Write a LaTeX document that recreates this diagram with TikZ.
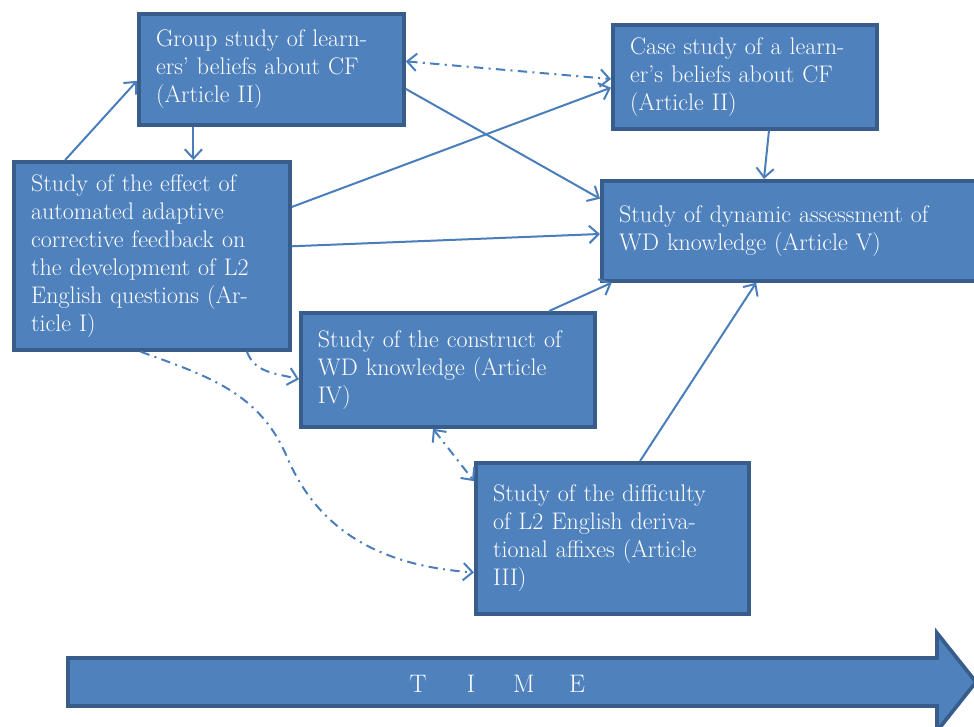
\documentclass[tikz,border=0pt]{standalone}
\usepackage{xcolor}
\usepackage{tikz}
\usetikzlibrary{positioning,calc,arrows.meta}

\definecolor{boxfill}{HTML}{4F81BD}
\definecolor{boxline}{HTML}{385D8A}
\definecolor{linkblue}{HTML}{4A7EBB}

\tikzset{
  >={Straight Barb[length=7pt,width=13pt]},
  study/.style={draw=boxline, line width=2.8pt, fill=boxfill, text=white,
    anchor=north west, align=left, inner xsep=12.5pt,
    font=\fontsize{18}{21}\selectfont},
  link/.style={draw=linkblue, line width=1.5pt, ->},
  dashlink/.style={link, dash pattern=on 7pt off 4pt on 1.5pt off 4pt},
  timeletter/.style={text=white, font=\fontsize{19}{19}\selectfont},
}

\begin{document}
\begin{tikzpicture}[x=0.75pt, y=0.75pt]
    \useasboundingbox (0,0) rectangle (974,-726);
    \clip (0,0) rectangle (974,-726);

    % studies
    \node[study, minimum width=198.75pt, minimum height=83.25pt, text width=173pt] (grp) at (137,-12)
        {Group study of learn-\\ers' beliefs about CF\\(Article II)};
    \node[study, minimum width=198pt, minimum height=78pt, text width=172pt] (case) at (611,-23)
        {Case study of a learn-\\er's beliefs about CF\\(Article II)};
    \node[study, minimum width=207pt, minimum height=141pt, text width=181pt] (eff) at (12,-160)
        {Study of the effect of\\automated adaptive\\corrective feedback on\\the development of L2\\English questions (Ar-\\ticle I)};
    \node[study, minimum width=290pt, minimum height=75pt, text width=264pt] (dyn) at (600,-179)
        {Study of dynamic assessment of\\WD knowledge (Article V)};
    \node[study, minimum width=220.5pt, minimum height=85.5pt, text width=195pt] (con) at (299,-311)
        {Study of the construct of\\WD knowledge (Article\\IV)};
    \node[study, minimum width=204.75pt, minimum height=113.25pt, text width=179pt] (dif) at (474,-461)
        {Study of the difficulty\\of L2 English deriva-\\tional affixes (Article\\III)};

    % solid links
    \draw[link] ($(eff.north west)!0.19!(eff.north east)$) -- ($(grp.north west)!0.6!(grp.south west)$);
    \draw[link] ($(grp.south west)!0.21!(grp.south east)$) coordinate (g1) -- (g1 |- eff.north);
    \draw[link] ($(grp.north east)!0.67!(grp.south east)$) -- ($(dyn.north west)!0.19!(dyn.south west)$);
    \draw[link] ($(eff.north east)!0.245!(eff.south east)$) -- ($(case.north west)!0.6!(case.south west)$);
    \draw[link] ($(eff.north east)!0.45!(eff.south east)$) -- ($(dyn.north west)!0.53!(dyn.south west)$);
    \draw[link] ($(case.south west)!0.59!(case.south east)$) -- ($(dyn.north west)!0.42!(dyn.north east)$);
    \draw[link] ($(con.north west)!0.84!(con.north east)$) -- ($(dyn.south west)!0.03!(dyn.south east)$);
    \draw[link] ($(dif.north west)!0.6!(dif.north east)$) -- ($(dyn.south west)!0.4!(dyn.south east)$);

    % dash-dot links
    \draw[dashlink, <->] ($(grp.north east)!0.43!(grp.south east)$) -- ($(case.north west)!0.52!(case.south west)$);
    \draw[dashlink] ($(eff.south west)!0.84!(eff.south east)$) to[out=-70, in=165] ($(con.north west)!0.58!(con.south west)$);
    \draw[dashlink] ($(eff.south west)!0.46!(eff.south east)$) to[out=-20, in=113] (287,-457)
        to[out=-67, in=176] ($(dif.north west)!0.72!(dif.south west)$);
    \draw[dashlink, <->] ($(con.south west)!0.45!(con.south east)$) -- ($(dif.north west)!0.13!(dif.south west)$);

    % time arrow
    \draw[draw=boxline, line width=2.8pt, fill=boxfill] (68,-658) -- (937,-658) -- (937,-633)
        -- (976,-682) -- (937,-731) -- (937,-706) -- (68,-706) -- cycle;
    \foreach \l [count=\i] in {T,I,M,E}
        \node[timeletter] (t\i) at (365+53*\i,-684) {\l};
\end{tikzpicture}
\end{document}
